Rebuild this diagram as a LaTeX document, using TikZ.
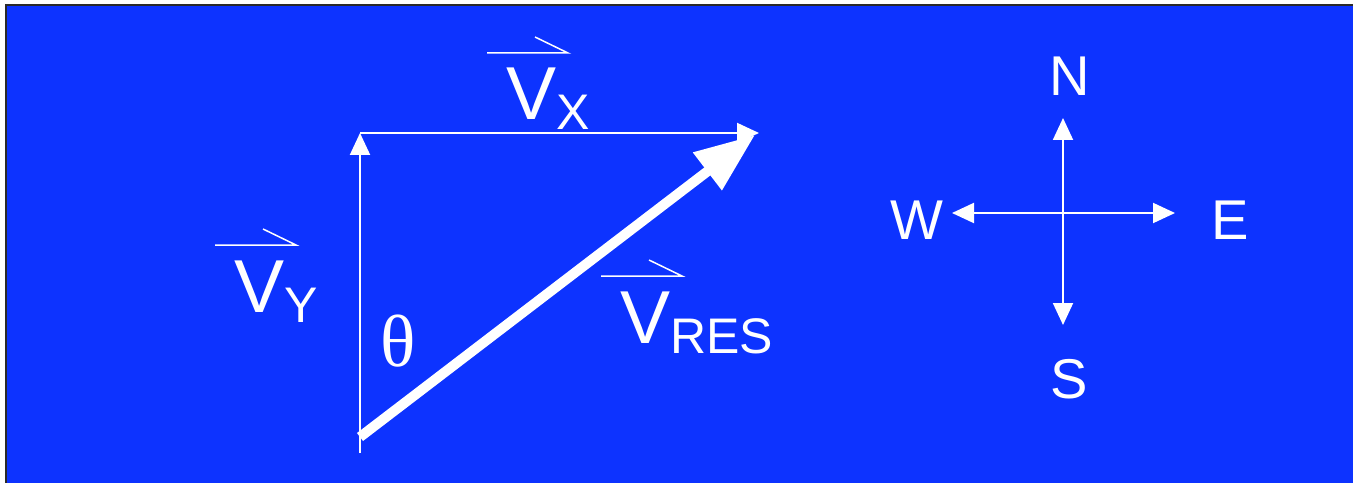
\documentclass[tikz,border=0pt]{standalone}
\usepackage{fontspec}
\setmainfont{Liberation Sans}
\newfontfamily\greekfont{Liberation Serif}
\usetikzlibrary{arrows.meta,calc}
\definecolor{cBlue}{HTML}{0D33FF}
\definecolor{cFrame}{HTML}{2A2A2A}
\tikzset{
  >={Triangle[length=4.4mm,width=4mm]},
  thinvec/.style={->,white,line width=0.4mm},
  compvec/.style={<->,white,line width=0.4mm},
  resvec/.style={-{Triangle[length=12mm,width=9mm]},white,line width=2mm},
  bigtxt/.style={text=white,inner sep=0pt,font=\fontsize{42.7}{44}\selectfont},
  dirtxt/.style={text=white,inner sep=0pt,font=\fontsize{31.9}{33}\selectfont},
  ovec/.style={white,line width=0.3mm},
}
\newcommand{\subtxt}[1]{\raisebox{-2mm}{\fontsize{28.45}{30}\selectfont #1}}
\newcommand{\overvec}[1]{\draw[ovec] ($(#1)+(-19,-67)$) -- ++(81,0) -- ++(-33,-16);}

\begin{document}
\begin{tikzpicture}[x=0.2mm,y=-0.2mm]
\useasboundingbox (0,0) rectangle (1353,483);
\fill[white] (0,0) rectangle (1353,483);
\draw[fill=cBlue,draw=cFrame,line width=0.4mm] (6,5) rectangle (1370,500);

% vector triangle
\coordinate (o) at (360,437);
\coordinate (foot) at (360,453);
\coordinate (top) at (360,133);
\coordinate (tipx) at (759,133);
\coordinate (tipres) at (755,135);
\draw[thinvec] (foot) -- (top);
\draw[thinvec] (top) -- (tipx);
\draw[resvec] (o) -- (tipres);

\node[bigtxt,anchor=base west] (vx) at (506,120) {V\subtxt{X}};
\node[bigtxt,anchor=base west] (vy) at (234,312) {V\subtxt{Y}};
\node[bigtxt,anchor=base west] (vres) at (620,343) {V\subtxt{RES}};
\overvec{vx.base west}
\overvec{vy.base west}
\overvec{vres.base west}
\node[text=white,inner sep=0pt,font=\greekfont\fontsize{42}{44}\selectfont] (theta) at (398,341) {θ};

% compass
\coordinate (c) at (1063,213);
\coordinate (tipn) at (1063,118);
\coordinate (tips) at (1063,325);
\coordinate (tipw) at (952,213);
\coordinate (tipe) at (1175,213);
\draw[compvec] (tipn) -- (tips);
\draw[compvec] (tipw) -- (tipe);
\node[dirtxt] (n) at (1070,76) {N};
\node[dirtxt] (s) at (1069,379) {S};
\node[dirtxt] (w) at (917,220) {W};
\node[dirtxt] (e) at (1230,220) {E};
\end{tikzpicture}
\end{document}
